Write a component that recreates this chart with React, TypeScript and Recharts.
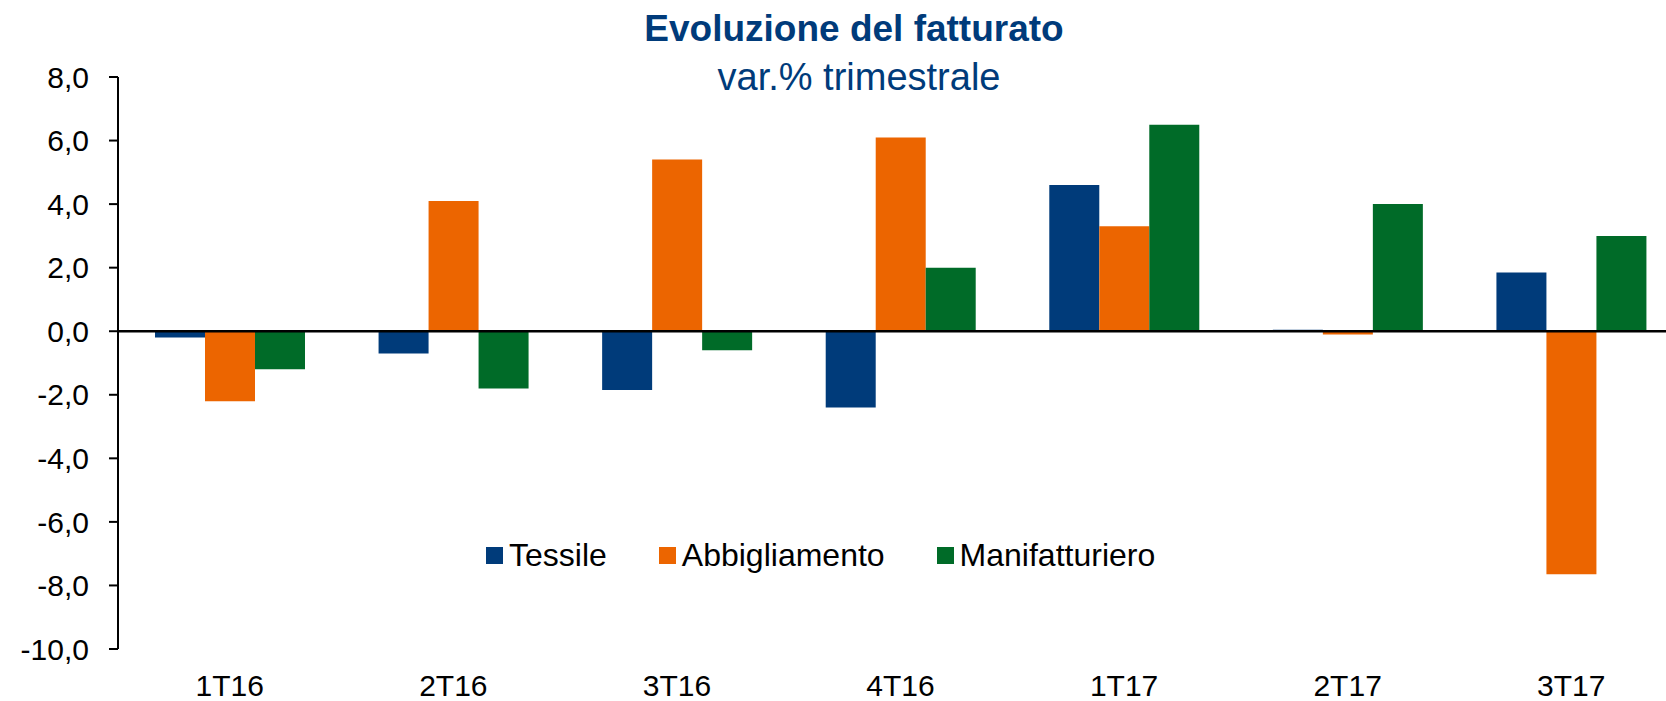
import React from "react";
import { BarChart, Bar, XAxis, YAxis, ReferenceLine, Legend } from "recharts";

// quarters and quarterly % change of turnover
const categories = ["1T16", "2T16", "3T16", "4T16", "1T17", "2T17", "3T17"];
const tessile = [-0.2, -0.7, -1.85, -2.4, 4.6, 0.05, 1.85];
const abbigliamento = [-2.2, 4.1, 5.4, 6.1, 3.3, -0.1, -7.65];
const manifatturiero = [-1.2, -1.8, -0.6, 2.0, 6.5, 4.0, 3.0];
const yTicks = [-10, -8, -6, -4, -2, 0, 2, 4, 6, 8];

const BLUE = "#003B7A";
const ORANGE = "#EC6500";
const GREEN = "#006B28";

const series = [
    { key: "Tessile", color: BLUE },
    { key: "Abbigliamento", color: ORANGE },
    { key: "Manifatturiero", color: GREEN },
];

const data = categories.map((cat, i) => ({
    cat,
    Tessile: tessile[i],
    Abbigliamento: abbigliamento[i],
    Manifatturiero: manifatturiero[i],
}));

const fmt = (v: number) => v.toFixed(1).replace(".", ",");

// legend kept in series order (recharts sorts the payload by name)
const renderLegend = () => (
    <div style={{ display: "flex", alignItems: "center" }}>
        {series.map((s, i) => (
            <div
                key={s.key}
                style={{ display: "flex", alignItems: "center", marginRight: i < series.length - 1 ? 52 : 0 }}
            >
                <span style={{ width: 17, height: 17, background: s.color, marginRight: 6, display: "inline-block" }} />
                <span style={{ fontSize: 32, lineHeight: "32px", color: "#000" }}>{s.key}</span>
            </div>
        ))}
    </div>
);

export default function App() {
    return (
        <div
            style={{
                position: "absolute",
                left: 0,
                top: 0,
                width: 1666,
                height: 701,
                overflow: "hidden",
                background: "#fff",
                fontFamily: "Arial, 'Liberation Sans', sans-serif",
            }}
        >
            <div
                style={{
                    position: "absolute",
                    left: 854,
                    top: 10,
                    transform: "translateX(-50%)",
                    whiteSpace: "nowrap",
                    fontSize: 37,
                    lineHeight: "37px",
                    fontWeight: "bold",
                    color: BLUE,
                }}
            >
                Evoluzione del fatturato
            </div>
            <div
                style={{
                    position: "absolute",
                    left: 859,
                    top: 58,
                    transform: "translateX(-50%)",
                    whiteSpace: "nowrap",
                    fontSize: 38,
                    lineHeight: "38px",
                    color: BLUE,
                }}
            >
                var.% trimestrale
            </div>
            <BarChart
                width={1700}
                height={701}
                data={data}
                margin={{ top: 77, right: 17, bottom: 0, left: 0 }}
                barCategoryGap={37}
                barGap={0}
            >
                <XAxis
                    dataKey="cat"
                    axisLine={false}
                    tickLine={false}
                    tickSize={0}
                    tickMargin={26}
                    height={52}
                    interval={0}
                    tick={{ fontSize: 30, fill: "#000" }}
                />
                <YAxis
                    domain={[-10, 8]}
                    ticks={yTicks}
                    interval={0}
                    width={118}
                    tickSize={9}
                    tickMargin={20}
                    tickFormatter={fmt}
                    axisLine={{ stroke: "#000", strokeWidth: 2 }}
                    tickLine={{ stroke: "#000", strokeWidth: 2 }}
                    tick={{ fontSize: 30, fill: "#000" }}
                />
                <Legend
                    verticalAlign="middle"
                    align="center"
                    content={renderLegend}
                    wrapperStyle={{ top: 539, left: 486, width: "auto" }}
                />
                {series.map((s) => (
                    <Bar key={s.key} dataKey={s.key} fill={s.color} isAnimationActive={false} />
                ))}
                <ReferenceLine y={0} stroke="#000" strokeWidth={2.5} />
            </BarChart>
        </div>
    );
}
